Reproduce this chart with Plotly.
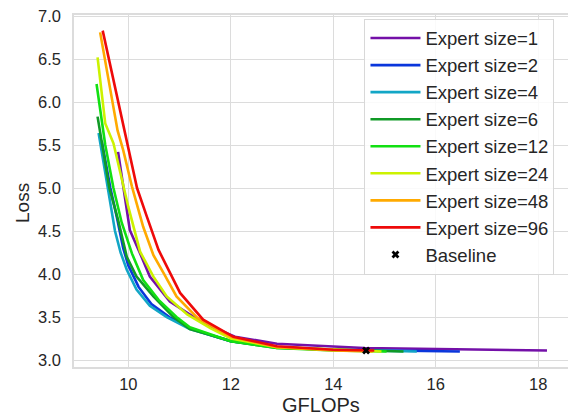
import plotly.graph_objects as go

labels = ["Expert size=1", "Expert size=2", "Expert size=4", "Expert size=6",
          "Expert size=12", "Expert size=24", "Expert size=48", "Expert size=96"]
colors = ["#7410a8", "#0a36dc", "#12a6c6", "#109a26", "#12e012", "#ccf200", "#ffaa00", "#ee0a0a"]

x1 = [9.80, 9.92, 10.03, 10.23, 10.42, 10.81, 11.20, 11.46, 12.08, 12.90, 14.60, 18.17]
y1 = [5.42, 4.95, 4.51, 4.24, 3.97, 3.68, 3.53, 3.43, 3.27, 3.19, 3.14, 3.11]
x2 = [9.48, 9.65, 9.78, 9.90, 10.00, 10.20, 10.45, 10.80, 11.20, 11.60, 12.00, 12.90, 14.00, 16.47]
y2 = [5.55, 5.00, 4.65, 4.30, 4.10, 3.85, 3.65, 3.50, 3.37, 3.29, 3.22, 3.15, 3.12, 3.10]
x4 = [9.42, 9.62, 9.74, 9.85, 9.97, 10.16, 10.42, 10.75, 11.20, 11.60, 12.00, 12.90, 14.00, 15.63]
y4 = [5.64, 4.95, 4.50, 4.25, 4.05, 3.82, 3.63, 3.50, 3.36, 3.29, 3.22, 3.15, 3.12, 3.10]
x6 = [9.40, 9.63, 9.80, 9.97, 10.16, 10.49, 10.88, 11.20, 11.60, 12.00, 12.90, 14.00, 15.37]
y6 = [5.83, 5.00, 4.63, 4.20, 3.97, 3.74, 3.50, 3.36, 3.29, 3.22, 3.14, 3.12, 3.10]
x12 = [9.38, 9.55, 9.71, 9.87, 10.07, 10.29, 10.59, 10.94, 11.20, 11.60, 12.00, 12.90, 14.00, 15.04]
y12 = [6.21, 5.50, 5.00, 4.60, 4.24, 3.93, 3.70, 3.50, 3.38, 3.30, 3.22, 3.14, 3.11, 3.10]
x24 = [9.40, 9.55, 9.71, 9.80, 10.00, 10.23, 10.49, 10.75, 11.15, 11.60, 12.00, 12.90, 14.00, 14.94]
y24 = [6.52, 5.75, 5.52, 5.29, 4.78, 4.26, 3.97, 3.74, 3.53, 3.37, 3.25, 3.15, 3.12, 3.10]
x48 = [9.45, 9.79, 9.90, 10.07, 10.29, 10.49, 10.70, 10.94, 11.35, 12.00, 12.90, 14.00, 14.77]
y48 = [6.81, 5.67, 5.44, 5.02, 4.55, 4.22, 4.00, 3.74, 3.49, 3.27, 3.15, 3.11, 3.10]
x96 = [9.50, 10.17, 10.36, 10.59, 11.01, 11.46, 12.05, 12.90, 14.00, 14.80]
y96 = [6.83, 5.00, 4.67, 4.28, 3.78, 3.47, 3.27, 3.16, 3.12, 3.11]

baseline_x = [14.64]
baseline_y = [3.11]

xs = [x1, x2, x4, x6, x12, x24, x48, x96]
ys = [y1, y2, y4, y6, y12, y24, y48, y96]

x_ticks = [10, 12, 14, 16, 18]
y_ticks = [3.0, 3.5, 4.0, 4.5, 5.0, 5.5, 6.0, 6.5, 7.0]

FONT = "Liberation Sans, Arial, sans-serif"
GRID = "#dcdcdc"
TXT = "#262626"

fig = go.Figure()
for lab, col, xv, yv in zip(labels, colors, xs, ys):
    fig.add_trace(go.Scatter(x=xv, y=yv, mode="lines", name=lab,
                             line=dict(color=col, width=2.6)))
fig.add_trace(go.Scatter(x=baseline_x, y=baseline_y, mode="markers", name="Baseline",
                         marker=dict(symbol="x", size=7, color="black")))

fig.update_layout(
    width=568, height=416,
    margin=dict(l=74, r=0, t=15, b=49),
    paper_bgcolor="white", plot_bgcolor="white",
    font=dict(family=FONT, color=TXT, size=16),
    showlegend=True,
    legend=dict(x=0.588, y=0.99, xanchor="left", yanchor="top",
                bgcolor="rgba(255,255,255,0.85)", bordercolor="#d8d8d8", borderwidth=1,
                font=dict(size=18.5, family=FONT, color=TXT),
                tracegroupgap=0, itemwidth=50),
    xaxis=dict(range=[8.94, 18.58], tickvals=x_ticks, ticktext=[str(v) for v in x_ticks],
               showgrid=True, gridcolor=GRID, gridwidth=1.2,
               showline=True, linecolor=GRID, linewidth=1.5, mirror=True,
               zeroline=False, ticks="", ticklabelstandoff=1, automargin=False,
               tickfont=dict(size=16.5)),
    yaxis=dict(range=[2.919, 7.012], tickvals=y_ticks, ticktext=[f"{v:.1f}" for v in y_ticks],
               showgrid=True, gridcolor=GRID, gridwidth=1.2,
               showline=True, linecolor=GRID, linewidth=1.5, mirror=True,
               zeroline=False, ticks="", ticklabelstandoff=8, automargin=False,
               tickfont=dict(size=16.5)),
    annotations=[
        dict(text="GFLOPs", xref="paper", yref="paper", x=0.5, y=(367 - 405) / 352,
             xanchor="center", yanchor="middle", showarrow=False,
             font=dict(size=20, family=FONT, color=TXT)),
        dict(text="Loss", xref="paper", yref="paper", x=(22 - 74) / 494, y=(367 - 203) / 352,
             xanchor="center", yanchor="middle", showarrow=False, textangle=-90,
             font=dict(size=19, family=FONT, color=TXT)),
    ],
)

fig.write_html("out.html")
